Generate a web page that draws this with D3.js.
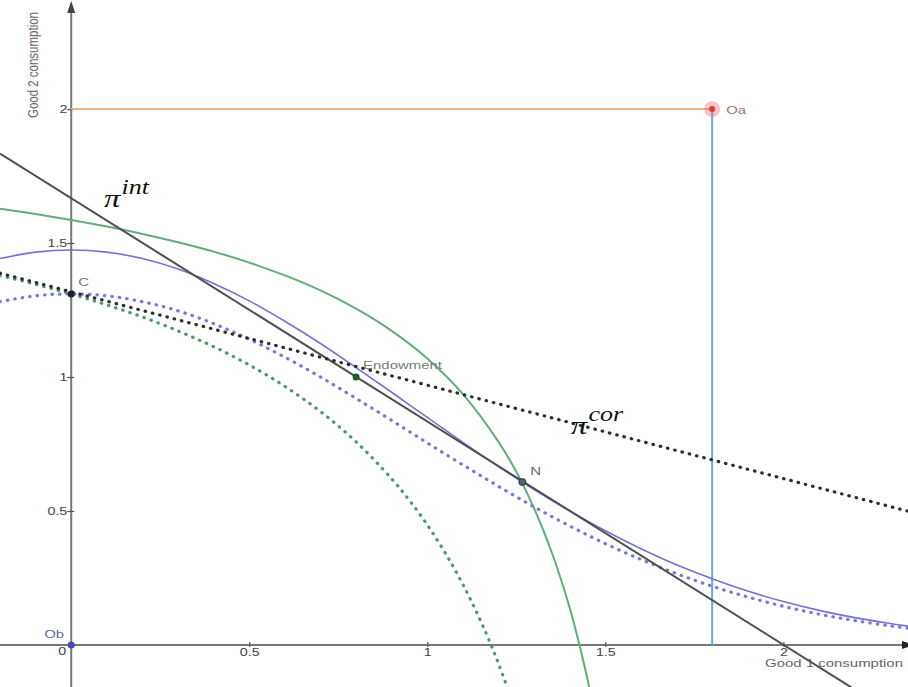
<!DOCTYPE html>
<html><head><meta charset="utf-8">
<script src="https://cdn.jsdelivr.net/npm/d3@7"></script>
<style>body{margin:0;background:#fff;} svg{display:block;background:#fff;}</style>
</head><body><svg id="c" width="908" height="687"></svg>
<script>
// ---- data ----
const xTicks = [0.5, 1, 1.5, 2];
const yTicks = [0.5, 1, 1.5, 2];
const xTickLabels = ["0.5", "1", "1.5", "2"];
const yTickLabels = ["0.5", "1", "1.5", "2"];
const xAxisTitle = "Good 1 consumption";
const yAxisTitle = "Good 2 consumption";

// consumer B indifference curves (purple), measured from Ob
const bCurveX = [-0.2,-0.1,0,0.1,0.2,0.3,0.4,0.5,0.6,0.7,0.8,0.9,1.0,1.1,1.2,1.3,1.4,1.5,1.6,1.7,1.8,1.9,2.0,2.1,2.2,2.3,2.35];
const bSolidY  = [1.442,1.466,1.474,1.466,1.442,1.403,1.349,1.284,1.208,1.125,1.035,0.943,0.849,0.756,0.666,0.580,0.500,0.426,0.359,0.299,0.247,0.201,0.162,0.129,0.102,0.080,0.070];
const bDottedY = [1.281,1.303,1.310,1.303,1.281,1.247,1.199,1.141,1.074,1.000,0.920,0.838,0.754,0.672,0.592,0.515,0.444,0.378,0.319,0.266,0.219,0.179,0.144,0.115,0.091,0.071,0.062];

// consumer A indifference curves (green)
const aSolidX = [-0.2,-0.1,0,0.1,0.2,0.3,0.4,0.5,0.6,0.7,0.8,0.9,1.0,1.1,1.2,1.25,1.3,1.35,1.4,1.43,1.455];
const aSolidY = [1.628,1.608,1.586,1.562,1.534,1.503,1.468,1.427,1.379,1.323,1.255,1.172,1.069,0.936,0.758,0.646,0.510,0.344,0.138,-0.014,-0.159];
const aDottedX = [-0.2,-0.1,0,0.1,0.2,0.3,0.4,0.5,0.6,0.7,0.8,0.9,0.95,1.0,1.05,1.1,1.15,1.18,1.2,1.225];
const aDottedY = [1.379,1.346,1.310,1.269,1.224,1.172,1.113,1.045,0.965,0.871,0.758,0.620,0.539,0.448,0.344,0.226,0.089,-0.003,-0.070,-0.160];

// price lines
const piIntX = [-0.2, 2.2];
const piIntY = [1.834, -0.166];
const piCorX = [-0.2, 2.35];
const piCorY = [1.3875, 0.499];

// box edges from Oa
const orangeX = [0, 1.8];
const orangeY = [2, 2];
const blueX = [1.8, 1.8];
const blueY = [2, 0];

// points
const pointNames = ["Oa", "Endowment", "N", "C", "Ob"];
const pointX = [1.8, 0.8, 1.267, 0, 0];
const pointY = [2, 1, 0.608, 1.31, 0];

// ---- drawing ----
const W = 908, H = 687, SX = 1.3;
const svg = d3.select("#c");
const x = d3.scaleLinear().domain([-0.2, 2.35]).range([0, W]);
const y = d3.scaleLinear().domain([-0.157, 2.407]).range([H, 0]);
const x0 = x(0), y0 = y(0);
const sans = "'Liberation Sans', Arial, sans-serif";
const serif = "'Liberation Serif', 'DejaVu Serif', serif";

const zip = (xs, ys) => xs.map((v, i) => [v, ys[i]]);
const smooth = d3.line().x(d => x(d[0])).y(d => y(d[1])).curve(d3.curveCatmullRom);
const straight = d3.line().x(d => x(d[0])).y(d => y(d[1]));

// axes lines
svg.append("line").attr("x1", 0).attr("x2", W).attr("y1", y0).attr("y2", y0)
  .attr("stroke", "#777").attr("stroke-width", 2);
svg.append("line").attr("x1", x0).attr("x2", x0).attr("y1", 4).attr("y2", H)
  .attr("stroke", "#777").attr("stroke-width", 2);
svg.append("path").attr("d", `M${x0-4},13 L${x0},1 L${x0+4},13 Z`).attr("fill", "#444");
svg.append("path").attr("d", `M${W-6},${y0-4} L${W+6},${y0} L${W-6},${y0+4} Z`).attr("fill", "#222");

// tick axes via d3
const gx = svg.append("g").attr("transform", `translate(0,${y0})`)
  .call(d3.axisBottom(x).tickValues(xTicks).tickFormat((d, i) => xTickLabels[i]).tickSize(3).tickPadding(0));
gx.select(".domain").remove();
gx.selectAll(".tick line").attr("y1", -3).attr("y2", 2).attr("stroke", "#555").attr("stroke-width", 1.2);
gx.selectAll(".tick text").attr("font-family", sans).attr("font-size", 11).attr("fill", "#444")
  .attr("transform", `scale(${SX},1)`);

const gy = svg.append("g").attr("transform", `translate(${x0},0)`)
  .call(d3.axisLeft(y).tickValues(yTicks).tickFormat((d, i) => yTickLabels[i]).tickSize(3).tickPadding(0));
gy.select(".domain").remove();
gy.selectAll(".tick line").attr("x1", -4).attr("x2", 3).attr("stroke", "#555").attr("stroke-width", 1.2);
gy.selectAll(".tick text").attr("font-family", sans).attr("font-size", 11).attr("fill", "#444")
  .attr("transform", `scale(${SX},1)`);

svg.append("text").attr("transform", `translate(${x0-5},${y0+10}) scale(${SX},1)`)
  .attr("text-anchor", "end").attr("font-family", sans).attr("font-size", 11).attr("fill", "#444").text("0");

// axis titles
svg.append("text").attr("transform", `translate(${W-5},${y0+22}) scale(${SX},1)`)
  .attr("text-anchor", "end").attr("font-family", sans).attr("font-size", 11.5).attr("fill", "#666").text(xAxisTitle);
svg.append("text").attr("transform", `translate(38,12) scale(${SX},1) rotate(-90)`)
  .attr("text-anchor", "end").attr("font-family", sans).attr("font-size", 11.5).attr("fill", "#666").text(yAxisTitle);

// box edges
svg.append("path").attr("d", straight(zip(orangeX, orangeY))).attr("stroke", "#f5b07a").attr("stroke-width", 2).attr("fill", "none");
svg.append("path").attr("d", straight(zip(blueX, blueY))).attr("stroke", "#6ea8d8").attr("stroke-width", 2).attr("fill", "none");

// indifference curves
const green = "#62ad7c", purple = "#7670d4";
svg.append("path").attr("d", smooth(zip(aSolidX, aSolidY))).attr("stroke", green).attr("stroke-width", 2).attr("fill", "none");
svg.append("path").attr("d", smooth(zip(aDottedX, aDottedY))).attr("stroke", "#4f9a68").attr("stroke-width", 3.2)
  .attr("stroke-dasharray", "0.5 7").attr("stroke-linecap", "round").attr("fill", "none");
svg.append("path").attr("d", smooth(zip(bCurveX, bSolidY))).attr("stroke", purple).attr("stroke-width", 1.6).attr("fill", "none");
svg.append("path").attr("d", smooth(zip(bCurveX, bDottedY))).attr("stroke", "#7a78e0").attr("stroke-width", 3.2)
  .attr("stroke-dasharray", "0.5 7").attr("stroke-linecap", "round").attr("fill", "none");

// price lines
svg.append("path").attr("d", straight(zip(piIntX, piIntY))).attr("stroke", "#4e4e4e").attr("stroke-width", 2).attr("fill", "none");
svg.append("path").attr("d", straight(zip(piCorX, piCorY))).attr("stroke", "#2e2e2e").attr("stroke-width", 3.2)
  .attr("stroke-dasharray", "0.5 7").attr("stroke-linecap", "round").attr("fill", "none");

// π labels
function piLabel(px, py, sup) {
  const t = svg.append("text").attr("transform", `translate(${px},${py}) scale(${SX},1)`)
    .attr("font-family", serif).attr("font-style", "italic").attr("fill", "#111");
  t.append("tspan").attr("font-size", 25).text("π");
  t.append("tspan").attr("font-size", 20).attr("dy", -13).attr("dx", 1).text(sup);
}
piLabel(104, 207, "int");
piLabel(571, 434, "cor");

// points
const ptStyle = {
  "Oa": {fill: "#d23c3c", label: "#a87070", dx: 14, dy: 5},
  "Endowment": {fill: "#1f5f2f", label: "#6f7f6f", dx: 7, dy: -8},
  "N": {fill: "#5a6072", label: "#6a6a6a", dx: 8, dy: -7},
  "C": {fill: "#222", label: "#777", dx: 7, dy: -8},
  "Ob": {fill: "#4a48c0", label: "#6a6a9a", dx: -27, dy: -7}
};
pointNames.forEach((n, i) => {
  const px = x(pointX[i]), py = y(pointY[i]), s = ptStyle[n];
  if (n === "Oa") svg.append("circle").attr("cx", px).attr("cy", py).attr("r", 8).attr("fill", "rgba(225,90,90,0.35)");
  svg.append("circle").attr("cx", px).attr("cy", py).attr("r", n === "Oa" ? 3 : 3.5)
    .attr("fill", s.fill).attr("stroke", n === "N" ? "#333" : "none").attr("stroke-width", 1);
  svg.append("text").attr("transform", `translate(${px + s.dx},${py + s.dy}) scale(${SX},1)`)
    .attr("font-family", sans).attr("font-size", 11.5).attr("fill", s.label).text(n);
});
</script>
</body></html>
